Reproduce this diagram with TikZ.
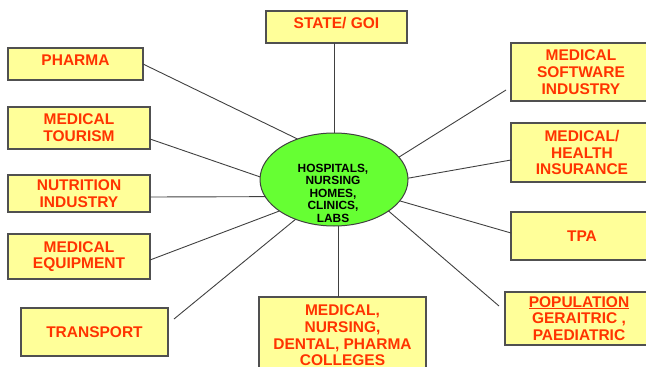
\documentclass[tikz,border=0pt]{standalone}
\usepackage{fontspec}
\setmainfont{Liberation Sans}
\usetikzlibrary{shapes.geometric,calc}
\definecolor{boxfill}{HTML}{FFFF99}
\definecolor{boxtext}{HTML}{FF3300}
\definecolor{ellfill}{HTML}{66FF33}
\definecolor{edgecol}{HTML}{505050}
\definecolor{linecol}{HTML}{404040}
\begin{document}
\begin{tikzpicture}[x=1pt,y=-1pt,
  box/.style={draw=edgecol, line width=1.2pt, fill=boxfill, text=boxtext,
    font=\fontsize{15.5}{16.7}\selectfont\bfseries, align=center,
    inner sep=0pt, outer sep=0pt},
  hub/.style={ellipse, draw=linecol, line width=1pt, fill=ellfill,
    minimum width=148pt, minimum height=93pt, inner sep=0pt, outer sep=0pt},
  hubtext/.style={font=\fontsize{11.9}{12.5}\selectfont\bfseries, align=center,
    text=black, inner sep=0pt},
  link/.style={draw=linecol, line width=0.9pt}]
\useasboundingbox (0,0) rectangle (646,367);

% centre
\node[hub] (c) at (334,179.5) {};
\node[hubtext] (ct) at (333,193) {HOSPITALS,\\NURSING\\HOMES,\\CLINICS,\\LABS};

% boxes
\node[box, minimum width=141pt, minimum height=32pt, text depth=8pt] (state) at (336.5,27) {STATE/ GOI};
\node[box, minimum width=135pt, minimum height=32pt, text depth=8pt] (pharma) at (75.5,64) {PHARMA};
\node[box, minimum width=142pt, minimum height=42pt] (tourism) at (79,128) {MEDICAL\\TOURISM};
\node[box, minimum width=142pt, minimum height=37pt] (nutrition) at (79,193.5) {NUTRITION\\INDUSTRY};
\node[box, minimum width=142pt, minimum height=45pt] (equipment) at (79,256.5) {MEDICAL\\EQUIPMENT};
\node[box, minimum width=147pt, minimum height=48pt] (transport) at (94.5,332) {TRANSPORT};
\node[box, minimum width=167pt, minimum height=77pt] (colleges) at (342.5,335.5) {MEDICAL,\\NURSING,\\DENTAL, PHARMA\\COLLEGES};
\node[box, minimum width=140pt, minimum height=58pt] (software) at (581,72) {MEDICAL\\SOFTWARE\\INDUSTRY};
\node[box, minimum width=142pt, minimum height=59pt] (insurance) at (582,152.5) {MEDICAL/\\HEALTH\\INSURANCE};
\node[box, minimum width=142pt, minimum height=48pt] (tpa) at (582,236) {TPA};
\node[box, minimum width=148pt, minimum height=53pt] (population) at (579,318.5) {\underline{POPULATION}\\GERAITRIC ,\\PAEDIATRIC};

% free ends of connectors that stop short of their boxes
\coordinate (transportEnd) at (174,319);
\coordinate (softwareEnd) at (506,90);
\coordinate (populationEnd) at (499,306);

% connectors
\draw[link] (state.south -| c.north) -- (c.north);
\draw[link] (pharma.east) -- (c.132);
\draw[link] ($(tourism.east)+(0,11)$) -- (c.178);
\draw[link] ($(nutrition.east)+(0,3.5)$) -- (c.194);
\draw[link] ($(equipment.east)+(0,3.5)$) -- (c.210);
\draw[link] (transportEnd) -- (c.226.5);
\draw[link] (c.276) -- (c.276 |- colleges.north);
\draw[link] (softwareEnd) -- (c.19);
\draw[link] ($(insurance.west)+(0,7.5)$) -- (c.1.6);
\draw[link] ($(tpa.west)+(0,-3)$) -- (c.342);
\draw[link] (populationEnd) -- (c.330);
\end{tikzpicture}
\end{document}
